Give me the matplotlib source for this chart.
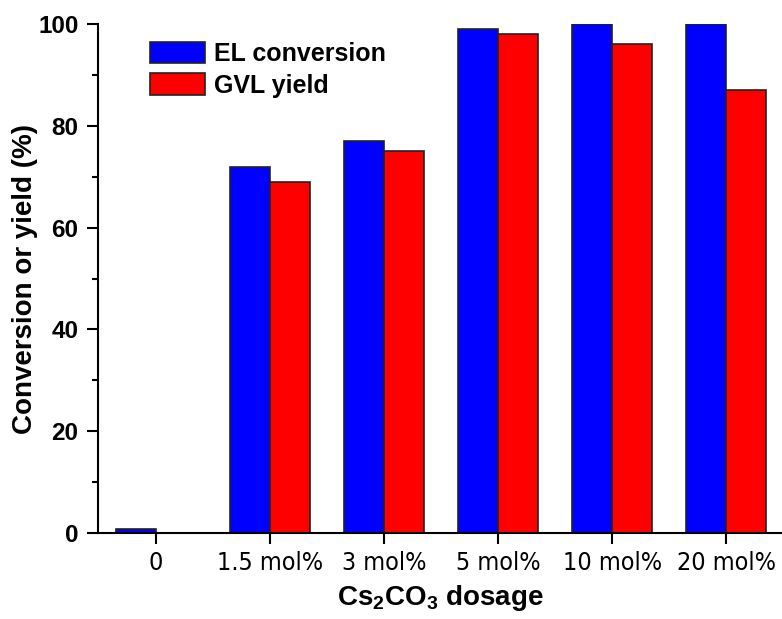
import numpy as np
import matplotlib.pyplot as plt
from matplotlib import font_manager
from matplotlib.ticker import MultipleLocator

categories = ['0', '1.5 mol%', '3 mol%', '5 mol%', '10 mol%', '20 mol%']
el_conversion = [0.8, 72, 77, 99, 100, 100]
gvl_yield = [0, 69, 75, 98, 96, 87]

plt.rcParams['font.family'] = ['Liberation Sans', 'DejaVu Sans']

names = {f.name for f in font_manager.fontManager.ttflist}
narrow = 'Liberation Sans Narrow' if 'Liberation Sans Narrow' in names else 'DejaVu Sans'

fig = plt.figure(figsize=(7.82, 6.19), dpi=100)
ax = fig.add_axes([98 / 782, 86 / 619, 684 / 782, 509 / 619])

x = np.arange(len(categories))
w = 0.35
ax.bar(x - w / 2, el_conversion, w, color='#0000ff', edgecolor='#222222',
       linewidth=1.2, label='EL conversion')
ax.bar(x + w / 2, gvl_yield, w, color='#ff0000', edgecolor='#222222',
       linewidth=1.2, label='GVL yield')

ax.set_xlim(-0.51, 5.49)
ax.set_ylim(0, 100)
ax.set_xticks(x)
ax.set_xticklabels(categories, fontsize=18, family=narrow, fontstretch='condensed')
ax.yaxis.set_major_locator(MultipleLocator(20))
ax.yaxis.set_minor_locator(MultipleLocator(10))
for lab in ax.get_yticklabels():
    lab.set_fontweight('bold')
    lab.set_fontsize(17.5)

ax.spines['top'].set_visible(False)
ax.spines['right'].set_visible(False)
ax.spines['left'].set_linewidth(1.5)
ax.spines['bottom'].set_linewidth(1.5)
ax.tick_params(axis='both', which='major', direction='out', length=8, width=1.5)
ax.tick_params(axis='y', which='minor', direction='out', length=4, width=1.5)
ax.tick_params(axis='x', pad=5)
ax.tick_params(axis='y', pad=6)

ax.set_ylabel('Conversion or yield (%)', fontsize=20, fontweight='bold', labelpad=0)
ax.set_xlabel(r'Cs$_\mathregular{2}$CO$_\mathregular{3}$ dosage', fontsize=20,
              fontweight='bold', labelpad=6)

ax.legend(loc='upper left', bbox_to_anchor=(0.043, 1.009), frameon=False,
          prop={'weight': 'bold', 'size': 18}, handlelength=2.2, handleheight=0.95,
          labelspacing=0.28, handletextpad=0.35)

fig.savefig('out.png', dpi=100)
